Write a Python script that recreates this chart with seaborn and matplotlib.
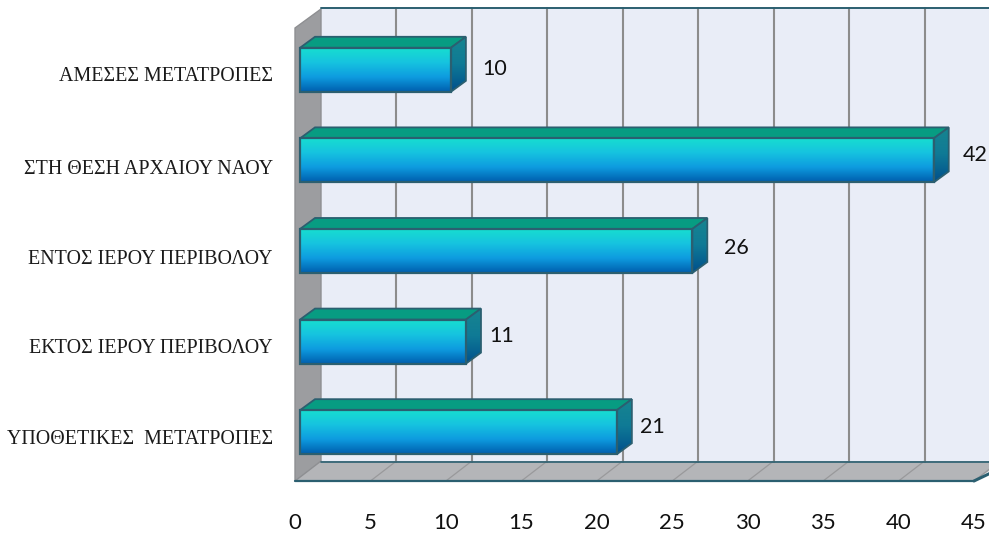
import numpy as np
import pandas as pd
import matplotlib
matplotlib.use('Agg')
import matplotlib.pyplot as plt
import seaborn as sns
from matplotlib.colors import LinearSegmentedColormap
from matplotlib.patches import Polygon
from matplotlib.transforms import ScaledTranslation

CATEGORIES = ['ΑΜΕΣΕΣ ΜΕΤΑΤΡΟΠΕΣ', 'ΣΤΗ ΘΕΣΗ ΑΡΧΑΙΟΥ ΝΑΟΥ', 'ΕΝΤΟΣ ΙΕΡΟΥ ΠΕΡΙΒΟΛΟΥ',
              'ΕΚΤΟΣ ΙΕΡΟΥ ΠΕΡΙΒΟΛΟΥ', 'ΥΠΟΘΕΤΙΚΕΣ  ΜΕΤΑΤΡΟΠΕΣ']
VALUES = [10, 42, 26, 11, 21]
X_TICKS = [0, 5, 10, 15, 20, 25, 30, 35, 40, 45]

# label nudges in pixels (right, up), measured from the bar end
LABEL_NUDGE = [(44, 1), (41, 5), (44, 3), (36, 6), (36, 5)]
# how far each category label sits below its slot, in pixels
YLABEL_DROP = [1, 3, 2, 1, 1]

W, H = 989, 536
# front plane of the fake 3d box, in pixels
LEFT, RIGHT, TOP, BOTTOM = 295, 974, 28, 481
PX_X = (RIGHT - LEFT) / 45
PX_Y = (BOTTOM - TOP) / 5

FACE = LinearSegmentedColormap.from_list('face', ['#17DFCF', '#16C4DF', '#0E9CE0', '#005FAE'])
SIDE = LinearSegmentedColormap.from_list('side', ['#17858F', '#0F7A96', '#004F8C'])
EDGE = '#2B5F70'


def gradient(ax, cmap, extent, clip):
    grad = np.linspace(0, 1, 64).reshape(-1, 1)
    im = ax.imshow(grad, cmap=cmap, aspect='auto', extent=extent, origin='upper',
                   zorder=4, interpolation='bilinear')
    im.set_clip_path(clip)


def draw_box(ax):
    back = ax.transData + ScaledTranslation(0.26, 0.195, ax.figure.dpi_scale_trans)
    top, bottom = -0.5, 4.5
    xmax = 47
    ax.add_patch(Polygon([(0, top), (xmax, top), (xmax, bottom), (0, bottom)],
                         transform=back, fc='#E9EDF7', ec='none', zorder=0, clip_on=False))
    # floor
    ax.add_patch(Polygon([(0, bottom), (45, bottom), (47, bottom - 20 / PX_Y), (0, bottom - 20 / PX_Y)],
                         fc='#B4B5B8', ec='none', zorder=1, clip_on=False))
    # left wall
    ax.add_patch(Polygon([(0, top), (26 / PX_X, top - 19 / PX_Y), (26 / PX_X, bottom - 20 / PX_Y), (0, bottom)],
                         fc='#9C9DA0', ec='#8E8F92', lw=1, zorder=2, clip_on=False))
    for tick in X_TICKS[1:]:
        ax.plot([tick, tick], [top, bottom], transform=back, color='#8C8C8C', lw=1.5, zorder=1.5, clip_on=False)
        ax.plot([tick, tick + 26 / PX_X], [bottom, bottom - 20 / PX_Y], color='#99999B', lw=0.9, zorder=1.5, clip_on=False)
    ax.plot([0, 47], [top, top], transform=back, color=EDGE, lw=1.4, zorder=2, clip_on=False)
    ax.plot([0, 47], [bottom, bottom], transform=back, color=EDGE, lw=1.2, zorder=2, clip_on=False)
    ax.plot([0, 45], [bottom, bottom], color=EDGE, lw=1.6, zorder=2, clip_on=False)
    ax.plot([45, 47], [bottom, bottom - 0.16], color=EDGE, lw=2.2, zorder=2, clip_on=False)


def draw_bars(ax, df):
    sns.barplot(data=df, x='value', y='category', orient='h', width=0.486, ax=ax,
                color='#16C4DF', saturation=1)
    shift_x, shift_y = 5 / PX_X, -3.5 / PX_Y
    depth_x, depth_y = 15 / PX_X, -11 / PX_Y
    for patch, nudge in zip(ax.patches, LABEL_NUDGE):
        x0 = shift_x
        x1 = shift_x + patch.get_width()
        y0 = patch.get_y() + shift_y
        y1 = y0 + patch.get_height()
        patch.set_visible(False)

        front = Polygon([(x0, y0), (x1, y0), (x1, y1), (x0, y1)], fc='none', ec=EDGE, lw=1.6, zorder=5)
        top = Polygon([(x0, y0), (x0 + depth_x, y0 + depth_y), (x1 + depth_x, y0 + depth_y), (x1, y0)],
                      fc='#079C82', ec=EDGE, lw=1.3, zorder=4)
        side = Polygon([(x1, y0), (x1 + depth_x, y0 + depth_y), (x1 + depth_x, y1 + depth_y), (x1, y1)],
                       fc='none', ec=EDGE, lw=1.3, zorder=5)
        for face in (front, top, side):
            ax.add_patch(face)
        gradient(ax, FACE, (x0, x1, y1, y0), front)
        gradient(ax, SIDE, (x1, x1 + depth_x, y1, y0 + depth_y), side)

        ax.annotate(f'{patch.get_width():.0f}', xy=(x1, (y0 + y1) / 2),
                    xytext=(nudge[0] * 0.72, nudge[1] * 0.72), textcoords='offset points',
                    ha='center', va='center', fontsize=15.5, family='Lato', color='#111111',
                    zorder=6, annotation_clip=False)


def main():
    sns.set_theme(style='white')
    df = pd.DataFrame({'category': CATEGORIES, 'value': VALUES})

    fig = plt.figure(figsize=(W / 100, H / 100), dpi=100)
    ax = fig.add_axes([LEFT / W, 1 - BOTTOM / H, (RIGHT - LEFT) / W, (BOTTOM - TOP) / H])

    draw_bars(ax, df)
    draw_box(ax)

    ax.set_xlim(0, 45)
    ax.set_ylim(4.5, -0.5)
    ax.set_xlabel('')
    ax.set_ylabel('')
    ax.set_xticks(X_TICKS)
    ax.tick_params(axis='x', length=0, pad=23, labelsize=16)
    ax.tick_params(axis='y', length=0, pad=16, labelsize=14.4)
    for label in ax.get_xticklabels():
        label.set_family('Lato')
        label.set_color('#111111')
    for label, drop in zip(ax.get_yticklabels(), YLABEL_DROP):
        label.set_family('Liberation Serif')
        label.set_color('#1A1A1A')
        label.set_transform(label.get_transform() + ScaledTranslation(0, -drop / 100, fig.dpi_scale_trans))
    ax.patch.set_visible(False)
    sns.despine(ax=ax, left=True, bottom=True)

    fig.savefig('out.png', dpi=100)
    plt.close(fig)


if __name__ == '__main__':
    main()
